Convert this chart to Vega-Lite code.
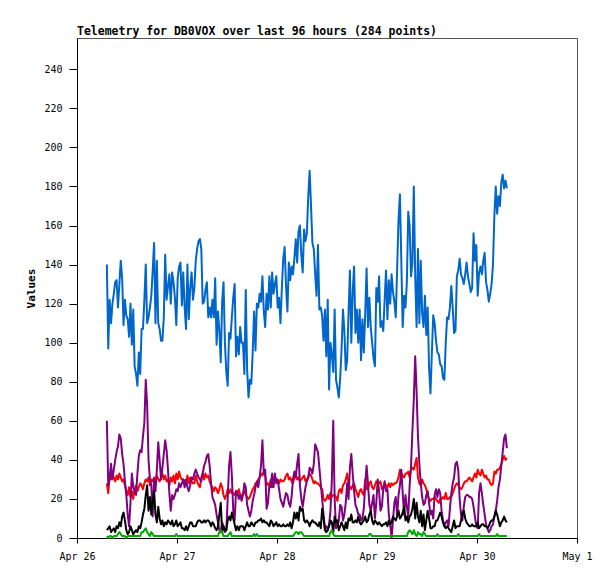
{
  "$schema": "https://vega.github.io/schema/vega-lite/v6.json",
  "width": 500,
  "height": 500,
  "autosize": {"type": "none"},
  "padding": {"left": 77, "top": 38, "right": 38, "bottom": 41},
  "background": "white",
  "title": {
    "text": "Telemetry for DB0VOX over last 96 hours (284 points)",
    "anchor": "start",
    "frame": "group",
    "font": "DejaVu Sans Mono",
    "fontSize": 11.5,
    "fontWeight": "bold",
    "color": "#000000",
    "baseline": "bottom",
    "offset": 3,
    "dy": 13
  },
  "data": {
    "format": {"parse": {"t": "date:'%m-%d %H:%M'"}},
    "values": [
      {"t":"04-26 07:10","b":140,"r":28,"p":60,"k":4,"g":1},
      {"t":"04-26 07:30","b":97,"r":23,"p":27,"k":5,"g":0},
      {"t":"04-26 07:50","b":122,"r":32,"p":31,"k":6,"g":1},
      {"t":"04-26 08:10","b":110,"r":30,"p":38,"k":3,"g":1},
      {"t":"04-26 08:30","b":120,"r":33,"p":30,"k":4,"g":0},
      {"t":"04-26 08:50","b":125,"r":31,"p":35,"k":5,"g":1},
      {"t":"04-26 09:10","b":131,"r":29,"p":40,"k":3,"g":1},
      {"t":"04-26 09:30","b":132,"r":32,"p":44,"k":6,"g":1},
      {"t":"04-26 09:50","b":118,"r":30,"p":47,"k":5,"g":2},
      {"t":"04-26 10:10","b":130,"r":33,"p":53,"k":8,"g":3},
      {"t":"04-26 10:30","b":142,"r":31,"p":51,"k":6,"g":2},
      {"t":"04-26 10:50","b":133,"r":29,"p":43,"k":11,"g":1},
      {"t":"04-26 11:10","b":109,"r":30,"p":38,"k":13,"g":1},
      {"t":"04-26 11:30","b":122,"r":27,"p":29,"k":9,"g":1},
      {"t":"04-26 11:50","b":114,"r":24,"p":22,"k":4,"g":0},
      {"t":"04-26 12:10","b":112,"r":22,"p":12,"k":2,"g":1},
      {"t":"04-26 12:30","b":103,"r":26,"p":6,"k":3,"g":1},
      {"t":"04-26 12:50","b":120,"r":21,"p":18,"k":6,"g":1},
      {"t":"04-26 13:10","b":99,"r":24,"p":33,"k":4,"g":1},
      {"t":"04-26 13:30","b":117,"r":20,"p":26,"k":2,"g":1},
      {"t":"04-26 13:50","b":88,"r":25,"p":24,"k":3,"g":1},
      {"t":"04-26 14:10","b":84,"r":27,"p":22,"k":4,"g":1},
      {"t":"04-26 14:30","b":78,"r":24,"p":33,"k":3,"g":1},
      {"t":"04-26 14:50","b":95,"r":26,"p":42,"k":6,"g":1},
      {"t":"04-26 15:10","b":84,"r":28,"p":45,"k":5,"g":1},
      {"t":"04-26 15:30","b":107,"r":27,"p":44,"k":8,"g":3},
      {"t":"04-26 15:50","b":107,"r":25,"p":52,"k":12,"g":3},
      {"t":"04-26 16:10","b":122,"r":28,"p":59,"k":15,"g":4},
      {"t":"04-26 16:30","b":140,"r":30,"p":81,"k":22,"g":5},
      {"t":"04-26 16:50","b":110,"r":29,"p":68,"k":27,"g":3},
      {"t":"04-26 17:10","b":113,"r":31,"p":40,"k":14,"g":2},
      {"t":"04-26 17:30","b":118,"r":27,"p":30,"k":21,"g":1},
      {"t":"04-26 17:50","b":124,"r":30,"p":27,"k":12,"g":3},
      {"t":"04-26 18:10","b":137,"r":29,"p":11,"k":19,"g":2},
      {"t":"04-26 18:30","b":151,"r":31,"p":30,"k":24,"g":1},
      {"t":"04-26 18:50","b":110,"r":28,"p":24,"k":12,"g":1},
      {"t":"04-26 19:10","b":142,"r":32,"p":35,"k":8,"g":1},
      {"t":"04-26 19:30","b":110,"r":30,"p":49,"k":16,"g":1},
      {"t":"04-26 19:50","b":107,"r":29,"p":40,"k":10,"g":1},
      {"t":"04-26 20:10","b":101,"r":31,"p":30,"k":7,"g":1},
      {"t":"04-26 20:30","b":101,"r":33,"p":36,"k":9,"g":1},
      {"t":"04-26 20:50","b":113,"r":30,"p":43,"k":6,"g":1},
      {"t":"04-26 21:10","b":145,"r":32,"p":50,"k":8,"g":1},
      {"t":"04-26 21:30","b":122,"r":29,"p":45,"k":7,"g":1},
      {"t":"04-26 21:50","b":129,"r":30,"p":35,"k":9,"g":1},
      {"t":"04-26 22:10","b":135,"r":27,"p":23,"k":8,"g":1},
      {"t":"04-26 22:30","b":120,"r":31,"p":14,"k":7,"g":1},
      {"t":"04-26 22:50","b":136,"r":29,"p":22,"k":9,"g":1},
      {"t":"04-26 23:10","b":131,"r":32,"p":20,"k":6,"g":1},
      {"t":"04-26 23:30","b":123,"r":28,"p":22,"k":7,"g":1},
      {"t":"04-26 23:50","b":109,"r":33,"p":25,"k":9,"g":2},
      {"t":"04-27 00:10","b":133,"r":30,"p":24,"k":6,"g":1},
      {"t":"04-27 00:30","b":139,"r":34,"p":28,"k":7,"g":1},
      {"t":"04-27 00:50","b":141,"r":31,"p":26,"k":8,"g":1},
      {"t":"04-27 01:10","b":119,"r":30,"p":28,"k":5,"g":1},
      {"t":"04-27 01:30","b":136,"r":30,"p":30,"k":5,"g":1},
      {"t":"04-27 01:50","b":118,"r":29,"p":26,"k":4,"g":1},
      {"t":"04-27 02:10","b":107,"r":27,"p":30,"k":6,"g":1},
      {"t":"04-27 02:30","b":140,"r":32,"p":26,"k":4,"g":1},
      {"t":"04-27 02:50","b":112,"r":28,"p":24,"k":6,"g":1},
      {"t":"04-27 03:10","b":128,"r":31,"p":27,"k":8,"g":1},
      {"t":"04-27 03:30","b":136,"r":29,"p":31,"k":8,"g":1},
      {"t":"04-27 03:50","b":122,"r":28,"p":30,"k":6,"g":1},
      {"t":"04-27 04:10","b":128,"r":28,"p":33,"k":6,"g":1},
      {"t":"04-27 04:30","b":142,"r":32,"p":35,"k":6,"g":1},
      {"t":"04-27 04:50","b":148,"r":29,"p":33,"k":8,"g":1},
      {"t":"04-27 05:10","b":152,"r":27,"p":31,"k":9,"g":1},
      {"t":"04-27 05:30","b":153,"r":26,"p":30,"k":9,"g":1},
      {"t":"04-27 05:50","b":148,"r":31,"p":29,"k":8,"g":1},
      {"t":"04-27 06:10","b":120,"r":33,"p":33,"k":8,"g":1},
      {"t":"04-27 06:30","b":121,"r":30,"p":37,"k":9,"g":1},
      {"t":"04-27 06:50","b":127,"r":33,"p":39,"k":8,"g":1},
      {"t":"04-27 07:10","b":131,"r":31,"p":42,"k":9,"g":1},
      {"t":"04-27 07:30","b":113,"r":32,"p":43,"k":9,"g":1},
      {"t":"04-27 07:50","b":118,"r":29,"p":37,"k":8,"g":1},
      {"t":"04-27 08:10","b":113,"r":27,"p":28,"k":6,"g":1},
      {"t":"04-27 08:30","b":122,"r":26,"p":21,"k":8,"g":1},
      {"t":"04-27 08:50","b":113,"r":24,"p":19,"k":7,"g":1},
      {"t":"04-27 09:10","b":133,"r":26,"p":17,"k":5,"g":1},
      {"t":"04-27 09:30","b":99,"r":25,"p":12,"k":4,"g":1},
      {"t":"04-27 09:50","b":116,"r":23,"p":8,"k":6,"g":1},
      {"t":"04-27 10:10","b":106,"r":25,"p":4,"k":12,"g":3},
      {"t":"04-27 10:30","b":90,"r":28,"p":3,"k":18,"g":4},
      {"t":"04-27 10:50","b":121,"r":26,"p":8,"k":3,"g":3},
      {"t":"04-27 11:10","b":131,"r":22,"p":6,"k":6,"g":1},
      {"t":"04-27 11:30","b":100,"r":20,"p":3,"k":4,"g":1},
      {"t":"04-27 11:50","b":85,"r":22,"p":4,"k":4,"g":1},
      {"t":"04-27 12:10","b":78,"r":25,"p":20,"k":9,"g":1},
      {"t":"04-27 12:30","b":105,"r":23,"p":37,"k":11,"g":2},
      {"t":"04-27 12:50","b":102,"r":25,"p":44,"k":9,"g":3},
      {"t":"04-27 13:10","b":113,"r":23,"p":32,"k":13,"g":1},
      {"t":"04-27 13:30","b":123,"r":23,"p":14,"k":10,"g":1},
      {"t":"04-27 13:50","b":130,"r":22,"p":9,"k":7,"g":1},
      {"t":"04-27 14:10","b":93,"r":24,"p":24,"k":4,"g":1},
      {"t":"04-27 14:30","b":103,"r":23,"p":23,"k":6,"g":1},
      {"t":"04-27 14:50","b":94,"r":25,"p":20,"k":4,"g":1},
      {"t":"04-27 15:10","b":108,"r":22,"p":22,"k":6,"g":1},
      {"t":"04-27 15:30","b":100,"r":21,"p":19,"k":6,"g":1},
      {"t":"04-27 15:50","b":100,"r":23,"p":22,"k":6,"g":1},
      {"t":"04-27 16:10","b":84,"r":24,"p":28,"k":4,"g":1},
      {"t":"04-27 16:30","b":127,"r":22,"p":26,"k":6,"g":1},
      {"t":"04-27 16:50","b":86,"r":21,"p":17,"k":8,"g":1},
      {"t":"04-27 17:10","b":72,"r":20,"p":14,"k":6,"g":1},
      {"t":"04-27 17:30","b":81,"r":21,"p":11,"k":6,"g":1},
      {"t":"04-27 17:50","b":79,"r":23,"p":14,"k":8,"g":1},
      {"t":"04-27 18:10","b":95,"r":25,"p":19,"k":7,"g":1},
      {"t":"04-27 18:30","b":116,"r":26,"p":22,"k":6,"g":2},
      {"t":"04-27 18:50","b":96,"r":28,"p":26,"k":8,"g":1},
      {"t":"04-27 19:10","b":120,"r":27,"p":29,"k":8,"g":2},
      {"t":"04-27 19:30","b":118,"r":30,"p":26,"k":9,"g":1},
      {"t":"04-27 19:50","b":125,"r":31,"p":31,"k":9,"g":1},
      {"t":"04-27 20:10","b":121,"r":33,"p":37,"k":10,"g":1},
      {"t":"04-27 20:30","b":134,"r":32,"p":50,"k":8,"g":1},
      {"t":"04-27 20:50","b":116,"r":34,"p":33,"k":9,"g":1},
      {"t":"04-27 21:10","b":108,"r":32,"p":35,"k":8,"g":1},
      {"t":"04-27 21:30","b":125,"r":27,"p":15,"k":8,"g":1},
      {"t":"04-27 21:50","b":117,"r":28,"p":18,"k":7,"g":1},
      {"t":"04-27 22:10","b":134,"r":27,"p":27,"k":6,"g":1},
      {"t":"04-27 22:30","b":118,"r":30,"p":26,"k":9,"g":1},
      {"t":"04-27 22:50","b":136,"r":26,"p":33,"k":8,"g":1},
      {"t":"04-27 23:10","b":125,"r":29,"p":26,"k":6,"g":1},
      {"t":"04-27 23:30","b":130,"r":31,"p":33,"k":7,"g":1},
      {"t":"04-27 23:50","b":134,"r":30,"p":28,"k":8,"g":1},
      {"t":"04-28 00:10","b":118,"r":29,"p":30,"k":6,"g":1},
      {"t":"04-28 00:30","b":123,"r":28,"p":25,"k":7,"g":1},
      {"t":"04-28 00:50","b":110,"r":30,"p":20,"k":6,"g":1},
      {"t":"04-28 01:10","b":128,"r":29,"p":18,"k":6,"g":1},
      {"t":"04-28 01:30","b":143,"r":29,"p":16,"k":7,"g":1},
      {"t":"04-28 01:50","b":149,"r":30,"p":20,"k":6,"g":1},
      {"t":"04-28 02:10","b":129,"r":32,"p":23,"k":6,"g":1},
      {"t":"04-28 02:30","b":116,"r":33,"p":22,"k":7,"g":1},
      {"t":"04-28 02:50","b":141,"r":30,"p":18,"k":6,"g":1},
      {"t":"04-28 03:10","b":132,"r":31,"p":16,"k":8,"g":1},
      {"t":"04-28 03:30","b":139,"r":29,"p":21,"k":5,"g":1},
      {"t":"04-28 03:50","b":135,"r":28,"p":30,"k":8,"g":1},
      {"t":"04-28 04:10","b":143,"r":31,"p":34,"k":13,"g":2},
      {"t":"04-28 04:30","b":153,"r":33,"p":31,"k":10,"g":3},
      {"t":"04-28 04:50","b":141,"r":30,"p":38,"k":13,"g":3},
      {"t":"04-28 05:10","b":157,"r":31,"p":43,"k":9,"g":2},
      {"t":"04-28 05:30","b":160,"r":29,"p":27,"k":16,"g":3},
      {"t":"04-28 05:50","b":145,"r":30,"p":20,"k":14,"g":3},
      {"t":"04-28 06:10","b":136,"r":31,"p":16,"k":15,"g":2},
      {"t":"04-28 06:30","b":158,"r":32,"p":21,"k":9,"g":1},
      {"t":"04-28 06:50","b":152,"r":29,"p":26,"k":8,"g":1},
      {"t":"04-28 07:10","b":156,"r":30,"p":29,"k":9,"g":1},
      {"t":"04-28 07:30","b":175,"r":31,"p":31,"k":8,"g":1},
      {"t":"04-28 07:50","b":188,"r":33,"p":36,"k":6,"g":1},
      {"t":"04-28 08:10","b":170,"r":32,"p":35,"k":8,"g":1},
      {"t":"04-28 08:30","b":151,"r":30,"p":33,"k":9,"g":1},
      {"t":"04-28 08:50","b":148,"r":28,"p":38,"k":8,"g":1},
      {"t":"04-28 09:10","b":135,"r":29,"p":48,"k":8,"g":1},
      {"t":"04-28 09:30","b":124,"r":28,"p":46,"k":7,"g":1},
      {"t":"04-28 09:50","b":150,"r":28,"p":44,"k":6,"g":1},
      {"t":"04-28 10:10","b":117,"r":27,"p":36,"k":8,"g":1},
      {"t":"04-28 10:30","b":118,"r":26,"p":28,"k":5,"g":1},
      {"t":"04-28 10:50","b":114,"r":25,"p":20,"k":15,"g":1},
      {"t":"04-28 11:10","b":101,"r":20,"p":12,"k":10,"g":1},
      {"t":"04-28 11:30","b":117,"r":19,"p":5,"k":4,"g":1},
      {"t":"04-28 11:50","b":93,"r":20,"p":6,"k":3,"g":1},
      {"t":"04-28 12:10","b":122,"r":22,"p":4,"k":4,"g":1},
      {"t":"04-28 12:30","b":76,"r":20,"p":7,"k":6,"g":1},
      {"t":"04-28 12:50","b":100,"r":23,"p":14,"k":9,"g":3},
      {"t":"04-28 13:10","b":94,"r":21,"p":30,"k":8,"g":4},
      {"t":"04-28 13:30","b":85,"r":22,"p":60,"k":3,"g":2},
      {"t":"04-28 13:50","b":117,"r":22,"p":20,"k":11,"g":1},
      {"t":"04-28 14:10","b":81,"r":21,"p":5,"k":8,"g":1},
      {"t":"04-28 14:30","b":77,"r":19,"p":6,"k":9,"g":1},
      {"t":"04-28 14:50","b":72,"r":24,"p":9,"k":4,"g":1},
      {"t":"04-28 15:10","b":82,"r":25,"p":17,"k":6,"g":1},
      {"t":"04-28 15:30","b":97,"r":23,"p":16,"k":8,"g":1},
      {"t":"04-28 15:50","b":117,"r":27,"p":9,"k":6,"g":1},
      {"t":"04-28 16:10","b":106,"r":28,"p":12,"k":4,"g":1},
      {"t":"04-28 16:30","b":86,"r":30,"p":18,"k":8,"g":1},
      {"t":"04-28 16:50","b":91,"r":33,"p":28,"k":5,"g":1},
      {"t":"04-28 17:10","b":115,"r":28,"p":20,"k":10,"g":1},
      {"t":"04-28 17:30","b":137,"r":26,"p":36,"k":9,"g":1},
      {"t":"04-28 17:50","b":100,"r":25,"p":43,"k":12,"g":1},
      {"t":"04-28 18:10","b":126,"r":27,"p":33,"k":8,"g":1},
      {"t":"04-28 18:30","b":139,"r":28,"p":24,"k":8,"g":1},
      {"t":"04-28 18:50","b":105,"r":25,"p":17,"k":9,"g":1},
      {"t":"04-28 19:10","b":117,"r":23,"p":15,"k":8,"g":1},
      {"t":"04-28 19:30","b":100,"r":21,"p":12,"k":11,"g":1},
      {"t":"04-28 19:50","b":117,"r":24,"p":12,"k":8,"g":1},
      {"t":"04-28 20:10","b":91,"r":25,"p":9,"k":7,"g":1},
      {"t":"04-28 20:30","b":112,"r":23,"p":10,"k":8,"g":1},
      {"t":"04-28 20:50","b":95,"r":22,"p":15,"k":9,"g":1},
      {"t":"04-28 21:10","b":115,"r":30,"p":27,"k":11,"g":1},
      {"t":"04-28 21:30","b":138,"r":25,"p":37,"k":8,"g":1},
      {"t":"04-28 21:50","b":108,"r":25,"p":28,"k":9,"g":1},
      {"t":"04-28 22:10","b":123,"r":28,"p":17,"k":12,"g":2},
      {"t":"04-28 22:30","b":108,"r":29,"p":14,"k":14,"g":2},
      {"t":"04-28 22:50","b":100,"r":26,"p":18,"k":9,"g":1},
      {"t":"04-28 23:10","b":92,"r":25,"p":22,"k":7,"g":1},
      {"t":"04-28 23:30","b":88,"r":27,"p":10,"k":9,"g":1},
      {"t":"04-28 23:50","b":128,"r":29,"p":18,"k":8,"g":1},
      {"t":"04-29 00:10","b":121,"r":28,"p":30,"k":7,"g":1},
      {"t":"04-29 00:30","b":134,"r":28,"p":24,"k":8,"g":1},
      {"t":"04-29 00:50","b":108,"r":29,"p":14,"k":7,"g":1},
      {"t":"04-29 01:10","b":111,"r":25,"p":16,"k":6,"g":1},
      {"t":"04-29 01:30","b":106,"r":26,"p":25,"k":7,"g":1},
      {"t":"04-29 01:50","b":122,"r":28,"p":29,"k":7,"g":1},
      {"t":"04-29 02:10","b":137,"r":27,"p":24,"k":8,"g":1},
      {"t":"04-29 02:30","b":112,"r":26,"p":25,"k":6,"g":1},
      {"t":"04-29 02:50","b":132,"r":28,"p":12,"k":9,"g":1},
      {"t":"04-29 03:10","b":120,"r":26,"p":7,"k":7,"g":1},
      {"t":"04-29 03:30","b":135,"r":28,"p":0,"k":8,"g":1},
      {"t":"04-29 03:50","b":126,"r":27,"p":9,"k":11,"g":1},
      {"t":"04-29 04:10","b":121,"r":28,"p":18,"k":10,"g":1},
      {"t":"04-29 04:30","b":113,"r":28,"p":21,"k":9,"g":1},
      {"t":"04-29 04:50","b":138,"r":29,"p":11,"k":11,"g":1},
      {"t":"04-29 05:10","b":163,"r":31,"p":22,"k":14,"g":1},
      {"t":"04-29 05:30","b":176,"r":35,"p":27,"k":10,"g":1},
      {"t":"04-29 05:50","b":142,"r":33,"p":35,"k":11,"g":1},
      {"t":"04-29 06:10","b":108,"r":32,"p":23,"k":13,"g":1},
      {"t":"04-29 06:30","b":124,"r":31,"p":12,"k":16,"g":1},
      {"t":"04-29 06:50","b":118,"r":33,"p":22,"k":9,"g":1},
      {"t":"04-29 07:10","b":131,"r":33,"p":16,"k":11,"g":1},
      {"t":"04-29 07:30","b":167,"r":34,"p":11,"k":8,"g":3},
      {"t":"04-29 07:50","b":160,"r":31,"p":27,"k":11,"g":4},
      {"t":"04-29 08:10","b":134,"r":35,"p":37,"k":12,"g":3},
      {"t":"04-29 08:30","b":141,"r":36,"p":55,"k":15,"g":2},
      {"t":"04-29 08:50","b":180,"r":35,"p":71,"k":20,"g":4},
      {"t":"04-29 09:10","b":134,"r":38,"p":93,"k":10,"g":2},
      {"t":"04-29 09:30","b":108,"r":41,"p":75,"k":18,"g":1},
      {"t":"04-29 09:50","b":148,"r":31,"p":52,"k":11,"g":3},
      {"t":"04-29 10:10","b":110,"r":28,"p":38,"k":8,"g":2},
      {"t":"04-29 10:30","b":142,"r":27,"p":28,"k":14,"g":2},
      {"t":"04-29 10:50","b":115,"r":30,"p":21,"k":6,"g":1},
      {"t":"04-29 11:10","b":108,"r":28,"p":17,"k":12,"g":3},
      {"t":"04-29 11:30","b":124,"r":27,"p":18,"k":4,"g":2},
      {"t":"04-29 11:50","b":104,"r":25,"p":22,"k":9,"g":1},
      {"t":"04-29 12:10","b":118,"r":22,"p":24,"k":14,"g":1},
      {"t":"04-29 12:30","b":87,"r":20,"p":18,"k":10,"g":1},
      {"t":"04-29 12:50","b":74,"r":19,"p":12,"k":5,"g":1},
      {"t":"04-29 13:10","b":95,"r":20,"p":14,"k":5,"g":1},
      {"t":"04-29 13:30","b":114,"r":20,"p":10,"k":6,"g":1},
      {"t":"04-29 13:50","b":110,"r":21,"p":22,"k":6,"g":1},
      {"t":"04-29 14:10","b":101,"r":20,"p":25,"k":9,"g":1},
      {"t":"04-29 14:30","b":95,"r":19,"p":21,"k":9,"g":2},
      {"t":"04-29 14:50","b":94,"r":18,"p":25,"k":11,"g":1},
      {"t":"04-29 15:10","b":89,"r":20,"p":23,"k":13,"g":1},
      {"t":"04-29 15:30","b":88,"r":20,"p":14,"k":11,"g":1},
      {"t":"04-29 15:50","b":82,"r":21,"p":9,"k":8,"g":1},
      {"t":"04-29 16:10","b":81,"r":20,"p":6,"k":6,"g":1},
      {"t":"04-29 16:30","b":100,"r":23,"p":8,"k":5,"g":1},
      {"t":"04-29 16:50","b":113,"r":20,"p":9,"k":6,"g":1},
      {"t":"04-29 17:10","b":112,"r":20,"p":6,"k":5,"g":1},
      {"t":"04-29 17:30","b":118,"r":21,"p":15,"k":4,"g":1},
      {"t":"04-29 17:50","b":129,"r":21,"p":23,"k":3,"g":1},
      {"t":"04-29 18:10","b":118,"r":23,"p":28,"k":6,"g":1},
      {"t":"04-29 18:30","b":105,"r":25,"p":31,"k":9,"g":1},
      {"t":"04-29 18:50","b":106,"r":27,"p":38,"k":5,"g":1},
      {"t":"04-29 19:10","b":134,"r":28,"p":39,"k":6,"g":1},
      {"t":"04-29 19:30","b":137,"r":27,"p":35,"k":6,"g":2},
      {"t":"04-29 19:50","b":143,"r":26,"p":20,"k":6,"g":1},
      {"t":"04-29 20:10","b":135,"r":25,"p":12,"k":9,"g":1},
      {"t":"04-29 20:30","b":133,"r":26,"p":9,"k":13,"g":1},
      {"t":"04-29 20:50","b":130,"r":28,"p":16,"k":14,"g":1},
      {"t":"04-29 21:10","b":135,"r":29,"p":21,"k":10,"g":1},
      {"t":"04-29 21:30","b":141,"r":29,"p":22,"k":8,"g":1},
      {"t":"04-29 21:50","b":134,"r":30,"p":22,"k":7,"g":1},
      {"t":"04-29 22:10","b":130,"r":31,"p":21,"k":6,"g":1},
      {"t":"04-29 22:30","b":126,"r":30,"p":21,"k":6,"g":1},
      {"t":"04-29 22:50","b":128,"r":29,"p":20,"k":7,"g":1},
      {"t":"04-29 23:10","b":156,"r":31,"p":16,"k":6,"g":1},
      {"t":"04-29 23:30","b":142,"r":33,"p":11,"k":6,"g":1},
      {"t":"04-29 23:50","b":150,"r":31,"p":6,"k":6,"g":1},
      {"t":"04-30 00:10","b":124,"r":35,"p":5,"k":8,"g":1},
      {"t":"04-30 00:30","b":136,"r":33,"p":23,"k":5,"g":2},
      {"t":"04-30 00:50","b":139,"r":32,"p":28,"k":6,"g":1},
      {"t":"04-30 01:10","b":135,"r":35,"p":23,"k":7,"g":1},
      {"t":"04-30 01:30","b":142,"r":33,"p":17,"k":7,"g":1},
      {"t":"04-30 01:50","b":146,"r":31,"p":12,"k":6,"g":1},
      {"t":"04-30 02:10","b":131,"r":32,"p":7,"k":6,"g":1},
      {"t":"04-30 02:30","b":127,"r":30,"p":5,"k":5,"g":1},
      {"t":"04-30 02:50","b":121,"r":30,"p":3,"k":6,"g":1},
      {"t":"04-30 03:10","b":125,"r":28,"p":4,"k":8,"g":1},
      {"t":"04-30 03:30","b":130,"r":27,"p":6,"k":9,"g":1},
      {"t":"04-30 03:50","b":140,"r":28,"p":7,"k":9,"g":1},
      {"t":"04-30 04:10","b":165,"r":34,"p":11,"k":11,"g":1},
      {"t":"04-30 04:30","b":180,"r":33,"p":14,"k":14,"g":1},
      {"t":"04-30 04:50","b":166,"r":35,"p":19,"k":12,"g":2},
      {"t":"04-30 05:10","b":175,"r":35,"p":26,"k":9,"g":1},
      {"t":"04-30 05:30","b":170,"r":36,"p":30,"k":6,"g":1},
      {"t":"04-30 05:50","b":182,"r":38,"p":37,"k":8,"g":1},
      {"t":"04-30 06:10","b":186,"r":40,"p":44,"k":9,"g":1},
      {"t":"04-30 06:30","b":179,"r":42,"p":51,"k":11,"g":1},
      {"t":"04-30 06:50","b":183,"r":40,"p":53,"k":9,"g":1},
      {"t":"04-30 07:10","b":179,"r":41,"p":46,"k":8,"g":1}
    ]
  },
  "transform": [
    {"fold": ["b", "r", "p", "k", "g"], "as": ["series", "value"]}
  ],
  "mark": {"type": "line", "strokeWidth": 2, "strokeJoin": "round", "interpolate": "linear"},
  "encoding": {
    "x": {
      "field": "t",
      "type": "temporal",
      "scale": {
        "domain": [
          {"year": 1900, "month": 4, "date": 26},
          {"year": 1900, "month": 5, "date": 1}
        ]
      },
      "axis": {
        "title": null,
        "grid": false,
        "tickCount": {"interval": "day", "step": 1},
        "format": "%b %-d",
        "labelFlush": false,
        "labelOverlap": false,
        "tickSize": 5,
        "labelPadding": 8,
        "labelFont": "DejaVu Sans Mono",
        "labelFontSize": 10,
        "labelColor": "#000000",
        "tickColor": "#000000",
        "domainColor": "#000000"
      }
    },
    "y": {
      "field": "value",
      "type": "quantitative",
      "scale": {"domain": [0, 256], "nice": false},
      "axis": {
        "title": "Values",
        "values": [0, 20, 40, 60, 80, 100, 120, 140, 160, 180, 200, 220, 240],
        "grid": false,
        "tickSize": 8,
        "labelPadding": 7,
        "labelFont": "DejaVu Sans Mono",
        "labelFontSize": 10,
        "labelColor": "#000000",
        "tickColor": "#000000",
        "domainColor": "#000000",
        "titleFont": "DejaVu Sans Mono",
        "titleFontSize": 11,
        "titleFontWeight": "bold",
        "titleColor": "#000000",
        "titleAngle": -90,
        "titleX": -46,
        "titleY": 250,
        "titleAlign": "center",
        "titleBaseline": "middle"
      }
    },
    "color": {
      "field": "series",
      "type": "nominal",
      "scale": {
        "domain": ["b", "r", "p", "k", "g"],
        "range": ["#0066cc", "#ff0000", "#800080", "#000000", "#00aa00"]
      },
      "legend": null
    }
  },
  "config": {
    "view": {"stroke": "#555555", "strokeWidth": 1}
  }
}
